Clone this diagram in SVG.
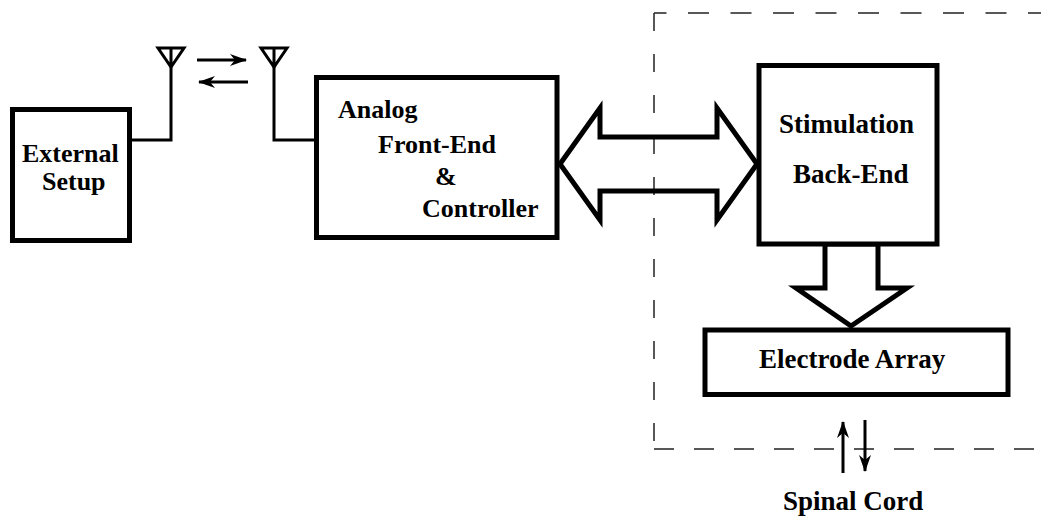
<svg xmlns="http://www.w3.org/2000/svg" width="1041" height="517" viewBox="0 0 1041 517">
<style>
.box{fill:#fff;stroke:#000;stroke-width:5}
.big{fill:none;stroke:#000;stroke-width:5;stroke-linejoin:miter}
.wire{fill:none;stroke:#000;stroke-width:3}
.ant{fill:none;stroke:#000;stroke-width:3;stroke-linejoin:miter}
.arr{fill:none;stroke:#000;stroke-width:3}
.dash{fill:none;stroke:#222;stroke-width:1.5}
text{font-family:"Liberation Serif","Times New Roman",serif;font-weight:bold;fill:#000}
.t26{font-size:26px}
.t27{font-size:27px}
</style>
<defs>
<marker id="head" markerUnits="userSpaceOnUse" markerWidth="20" markerHeight="16" viewBox="-18 -8 20 16" refX="0" refY="0" orient="auto">
<path d="M1,0 L-16,-6 L-11,0 L-16,6 Z" fill="#000"/>
</marker>
</defs>
<g id="boundary">
<line class="dash" x1="654" y1="13" x2="1045" y2="13" stroke-dasharray="21 21.5" stroke-dashoffset="8.5"/>
<line class="dash" x1="654" y1="13" x2="654" y2="449" stroke-dasharray="18 23" stroke-dashoffset="0"/>
<line class="dash" x1="654" y1="449" x2="1045" y2="449" stroke-dasharray="20 20"/>
</g>
<g id="connectors">
<polyline class="wire" points="132,140 171,140 171,63"/>
<polyline class="wire" points="274,63 274,140 314,140"/>
<line class="arr" x1="197" y1="60" x2="246" y2="60" marker-end="url(#head)"/>
<line class="arr" x1="248" y1="82" x2="199" y2="82" marker-end="url(#head)"/>
<polygon class="big" points="560,164 600,108 600,137 717,137 717,108 757,164 717,220 717,191 600,191 600,220"/>
<polygon class="big" points="825,244 825,288 796,288 851,326 907,288 878,288 878,244"/>
<line class="arr" x1="843" y1="473" x2="843" y2="422" marker-end="url(#head)"/>
<line class="arr" x1="865" y1="420" x2="865" y2="471" marker-end="url(#head)"/>
</g>
<g id="antenna-left">
<path class="ant" d="M158,48 L184,48 L171,67 Z M171,48 L171,67"/>
</g>
<g id="antenna-right">
<path class="ant" d="M261,48 L287,48 L274,67 Z M274,48 L274,67"/>
</g>
<g id="external-setup">
<rect class="box" x="12.5" y="109.5" width="117" height="131"/>
<text class="t26" x="22" y="162">External</text>
<text class="t26" x="42" y="190">Setup</text>
</g>
<g id="analog-front-end">
<rect class="box" x="316.5" y="77.5" width="240.5" height="160"/>
<text class="t26" x="338" y="118">Analog</text>
<text class="t26" x="378" y="153">Front-End</text>
<text class="t26" x="435" y="185">&amp;</text>
<text class="t26" x="422" y="217">Controller</text>
</g>
<g id="stimulation-back-end">
<rect class="box" x="759" y="65.5" width="178" height="178.5"/>
<text class="t27" x="779" y="133">Stimulation</text>
<text class="t27" x="793" y="183">Back-End</text>
</g>
<g id="electrode-array">
<rect class="box" x="705" y="330" width="303" height="64.5"/>
<text class="t27" x="759" y="368">Electrode Array</text>
</g>
<g id="spinal-cord">
<text class="t27" x="783" y="510">Spinal Cord</text>
</g>
</svg>
